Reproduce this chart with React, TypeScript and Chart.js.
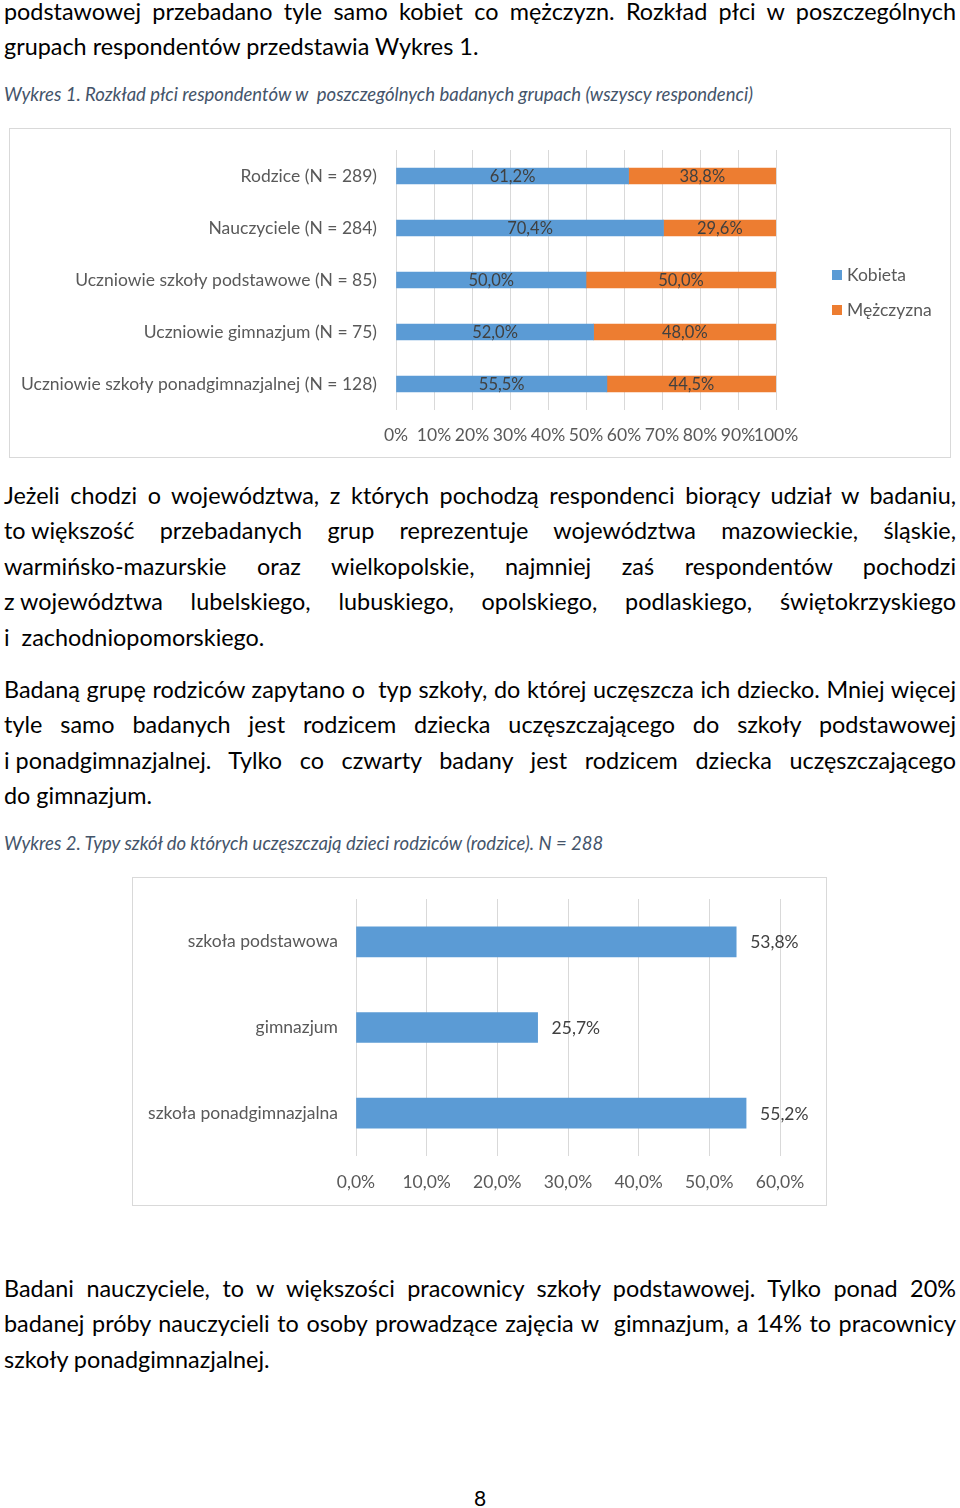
import { useEffect, useRef } from "react";
import { Chart, ChartConfiguration, registerables } from "chart.js";

Chart.register(...registerables);

// Wykres 1 data
const groups = [
  "Rodzice (N = 289)",
  "Nauczyciele (N = 284)",
  "Uczniowie szkoły podstawowe (N = 85)",
  "Uczniowie gimnazjum (N = 75)",
  "Uczniowie szkoły ponadgimnazjalnej (N = 128)",
];
const kobieta = [61.2, 70.4, 50.0, 52.0, 55.5];
const mezczyzna = [38.8, 29.6, 50.0, 48.0, 44.5];
const seriesNames = ["Kobieta", "Mężczyzna"];

// Wykres 2 data
const schoolTypes = ["szkoła podstawowa", "gimnazjum", "szkoła ponadgimnazjalna"];
const schoolShare = [53.8, 25.7, 55.2];

const BLUE = "#5B9BD5";
const ORANGE = "#ED7D31";
const AXIS_TEXT = "#595959";
const LABEL_TEXT = "#404040";
const GRID = "#d9d9d9";
const FONT = "Lato";
const CHART_FONT = 17.5;

const fmt = (v: number) => v.toFixed(1).replace(".", ",") + "%";

// draws value labels on bars: centred in segment or just after bar end
const barLabels = {
  id: "barLabels",
  afterDatasetsDraw(chart: any, _args: any, opts: any) {
    const ctx = chart.ctx;
    ctx.save();
    ctx.font = `${opts.size || 15}px ${FONT}`;
    ctx.fillStyle = LABEL_TEXT;
    ctx.textBaseline = "middle";
    chart.data.datasets.forEach((ds: any, i: number) => {
      const meta = chart.getDatasetMeta(i);
      meta.data.forEach((bar: any, j: number) => {
        const text = fmt(ds.data[j]);
        if (opts.mode === "end") {
          ctx.textAlign = "left";
          ctx.fillText(text, bar.x + 14, bar.y + 1);
        } else {
          ctx.textAlign = "center";
          ctx.fillText(text, (bar.x + bar.base) / 2, bar.y + 1);
        }
      });
    });
    ctx.restore();
  },
};

function BarCanvas({ config, width, height }: { config: ChartConfiguration; width: number; height: number }) {
  const canvasRef = useRef<HTMLCanvasElement>(null);

  useEffect(() => {
    if (!canvasRef.current) return;
    const chart = new Chart(canvasRef.current, config);
    return () => chart.destroy();
  }, [config]);

  return (
    <div style={{ position: "absolute", left: 0, top: 0, width, height }}>
      <canvas ref={canvasRef} />
    </div>
  );
}

const chart1: ChartConfiguration = {
  type: "bar",
  data: {
    labels: groups,
    datasets: [
      { label: seriesNames[0], data: kobieta, backgroundColor: BLUE, barThickness: 16 },
      { label: seriesNames[1], data: mezczyzna, backgroundColor: ORANGE, barThickness: 16 },
    ],
  },
  options: {
    indexAxis: "y",
    animation: false,
    responsive: true,
    maintainAspectRatio: false,
    layout: { padding: { top: 21, right: 174, left: 0, bottom: 0 } },
    plugins: {
      legend: { display: false },
      tooltip: { enabled: false },
      barLabels: { mode: "center", size: 16.5 },
    } as any,
    scales: {
      x: {
        stacked: true,
        min: 0,
        max: 100,
        ticks: {
          stepSize: 10,
          padding: 15,
          maxRotation: 0,
          minRotation: 0,
          autoSkip: false,
          color: AXIS_TEXT,
          font: { family: FONT, size: CHART_FONT },
          callback: (v: any) => v + "%",
        },
        grid: { color: GRID, drawTicks: false },
        border: { display: false },
        afterFit: (s: any) => {
          s.height = 47;
        },
      },
      y: {
        stacked: true,
        ticks: { padding: 0, color: AXIS_TEXT, font: { family: FONT, size: CHART_FONT } },
        grid: { color: "transparent", drawTicks: true, tickLength: 19 },
        border: { display: false },
        afterFit: (s: any) => {
          s.width = 386;
        },
      },
    },
  },
  plugins: [barLabels],
};

const chart2: ChartConfiguration = {
  type: "bar",
  data: {
    labels: schoolTypes,
    datasets: [{ label: "rodzice", data: schoolShare, backgroundColor: BLUE, barThickness: 30 }],
  },
  options: {
    indexAxis: "y",
    animation: false,
    responsive: true,
    maintainAspectRatio: false,
    layout: { padding: { top: 21, right: 46, left: 0, bottom: 0 } },
    plugins: {
      legend: { display: false },
      tooltip: { enabled: false },
      barLabels: { mode: "end", size: CHART_FONT },
    } as any,
    scales: {
      x: {
        min: 0,
        max: 60,
        ticks: {
          stepSize: 10,
          padding: 16,
          maxRotation: 0,
          minRotation: 0,
          color: AXIS_TEXT,
          font: { family: FONT, size: CHART_FONT },
          callback: (v: any) => fmt(Number(v)),
        },
        grid: { color: GRID, drawTicks: false },
        border: { display: false },
        afterFit: (s: any) => {
          s.height = 49;
        },
      },
      y: {
        ticks: { padding: 0, color: AXIS_TEXT, font: { family: FONT, size: CHART_FONT } },
        grid: { color: "transparent", drawTicks: true, tickLength: 18 },
        border: { display: false },
        afterFit: (s: any) => {
          s.width = 223;
        },
      },
    },
  },
  plugins: [barLabels],
};

const LH = 35.4;
const textStyle: React.CSSProperties = {
  position: "absolute",
  left: 4,
  width: 952,
  fontFamily: FONT,
  fontSize: 23.4,
  lineHeight: `${LH}px`,
  color: "#000",
};

// "_" glues words together so justification does not stretch that gap
function Line({ text }: { text: string }) {
  const parts = text.split(/(\S*_\S*)/);
  return (
    <>
      {parts.map((p, i) =>
        i % 2 === 1 ? (
          <span key={i} style={{ display: "inline-block" }}>
            {p.replace(/_/g, "\u00A0")}
          </span>
        ) : (
          p
        )
      )}
    </>
  );
}

function Para({ top, lines }: { top: number; lines: string[] }) {
  return (
    <div style={{ ...textStyle, top }}>
      {lines.map((l, i) => {
        const last = i === lines.length - 1;
        return (
          <div
            key={i}
            style={{
              textAlign: last ? "left" : "justify",
              textAlignLast: last ? "left" : "justify",
              whiteSpace: "nowrap",
            }}
          >
            <Line text={l} />
          </div>
        );
      })}
    </div>
  );
}

function Caption({ top, text }: { top: number; text: string }) {
  return (
    <div
      style={{
        position: "absolute",
        left: 4,
        top,
        fontFamily: FONT,
        fontStyle: "italic",
        fontSize: 18.5,
        color: "#44546A",
        whiteSpace: "pre",
      }}
    >
      {text}
    </div>
  );
}

export default function App() {
  return (
    <div style={{ position: "absolute", left: 0, top: 0, width: 960, height: 1508, background: "#fff" }}>
      <Para
        top={-6}
        lines={[
          "podstawowej przebadano tyle samo kobiet co mężczyzn. Rozkład płci w poszczególnych",
          "grupach respondentów przedstawia Wykres 1.",
        ]}
      />
      <Caption top={83} text="Wykres 1. Rozkład płci respondentów w  poszczególnych badanych grupach (wszyscy respondenci)" />

      <div
        style={{
          position: "absolute",
          left: 9,
          top: 128,
          width: 942,
          height: 330,
          boxSizing: "border-box",
          border: "1px solid #d9d9d9",
        }}
      >
        <BarCanvas config={chart1} width={940} height={328} />
        {seriesNames.map((name, i) => (
          <div
            key={name}
            style={{
              position: "absolute",
              left: 822,
              top: 135 + i * 35,
              display: "flex",
              alignItems: "center",
              fontFamily: FONT,
              fontSize: CHART_FONT,
              color: AXIS_TEXT,
            }}
          >
            <span
              style={{
                width: 10,
                height: 10,
                background: i === 0 ? BLUE : ORANGE,
                marginRight: 5,
                display: "inline-block",
              }}
            />
            {name}
          </div>
        ))}
      </div>

      <Para
        top={478}
        lines={[
          "Jeżeli chodzi o województwa, z których pochodzą respondenci biorący udział w badaniu,",
          "to_większość przebadanych grup reprezentuje województwa mazowieckie, śląskie,",
          "warmińsko-mazurskie oraz wielkopolskie, najmniej zaś respondentów pochodzi",
          "z_województwa lubelskiego, lubuskiego, opolskiego, podlaskiego, świętokrzyskiego",
          "i\u00A0 zachodniopomorskiego.",
        ]}
      />
      <Para
        top={672}
        lines={[
          "Badaną grupę rodziców zapytano o\u00A0 typ szkoły, do której uczęszcza ich dziecko. Mniej więcej",
          "tyle samo badanych jest rodzicem dziecka uczęszczającego do szkoły podstawowej",
          "i_ponadgimnazjalnej. Tylko co czwarty badany jest rodzicem dziecka uczęszczającego",
          "do gimnazjum.",
        ]}
      />
      <Caption top={832} text="Wykres 2. Typy szkół do których uczęszczają dzieci rodziców (rodzice). N = 288" />

      <div
        style={{
          position: "absolute",
          left: 132,
          top: 877,
          width: 695,
          height: 329,
          boxSizing: "border-box",
          border: "1px solid #d9d9d9",
        }}
      >
        <BarCanvas config={chart2} width={693} height={327} />
      </div>

      <Para
        top={1271}
        lines={[
          "Badani nauczyciele, to w większości pracownicy szkoły podstawowej. Tylko ponad 20%",
          "badanej próby nauczycieli to osoby prowadzące zajęcia w\u00A0 gimnazjum, a 14% to pracownicy",
          "szkoły ponadgimnazjalnej.",
        ]}
      />
      <div
        style={{
          position: "absolute",
          left: 0,
          width: 960,
          top: 1485,
          textAlign: "center",
          fontFamily: FONT,
          fontSize: 21,
        }}
      >
        8
      </div>
    </div>
  );
}
